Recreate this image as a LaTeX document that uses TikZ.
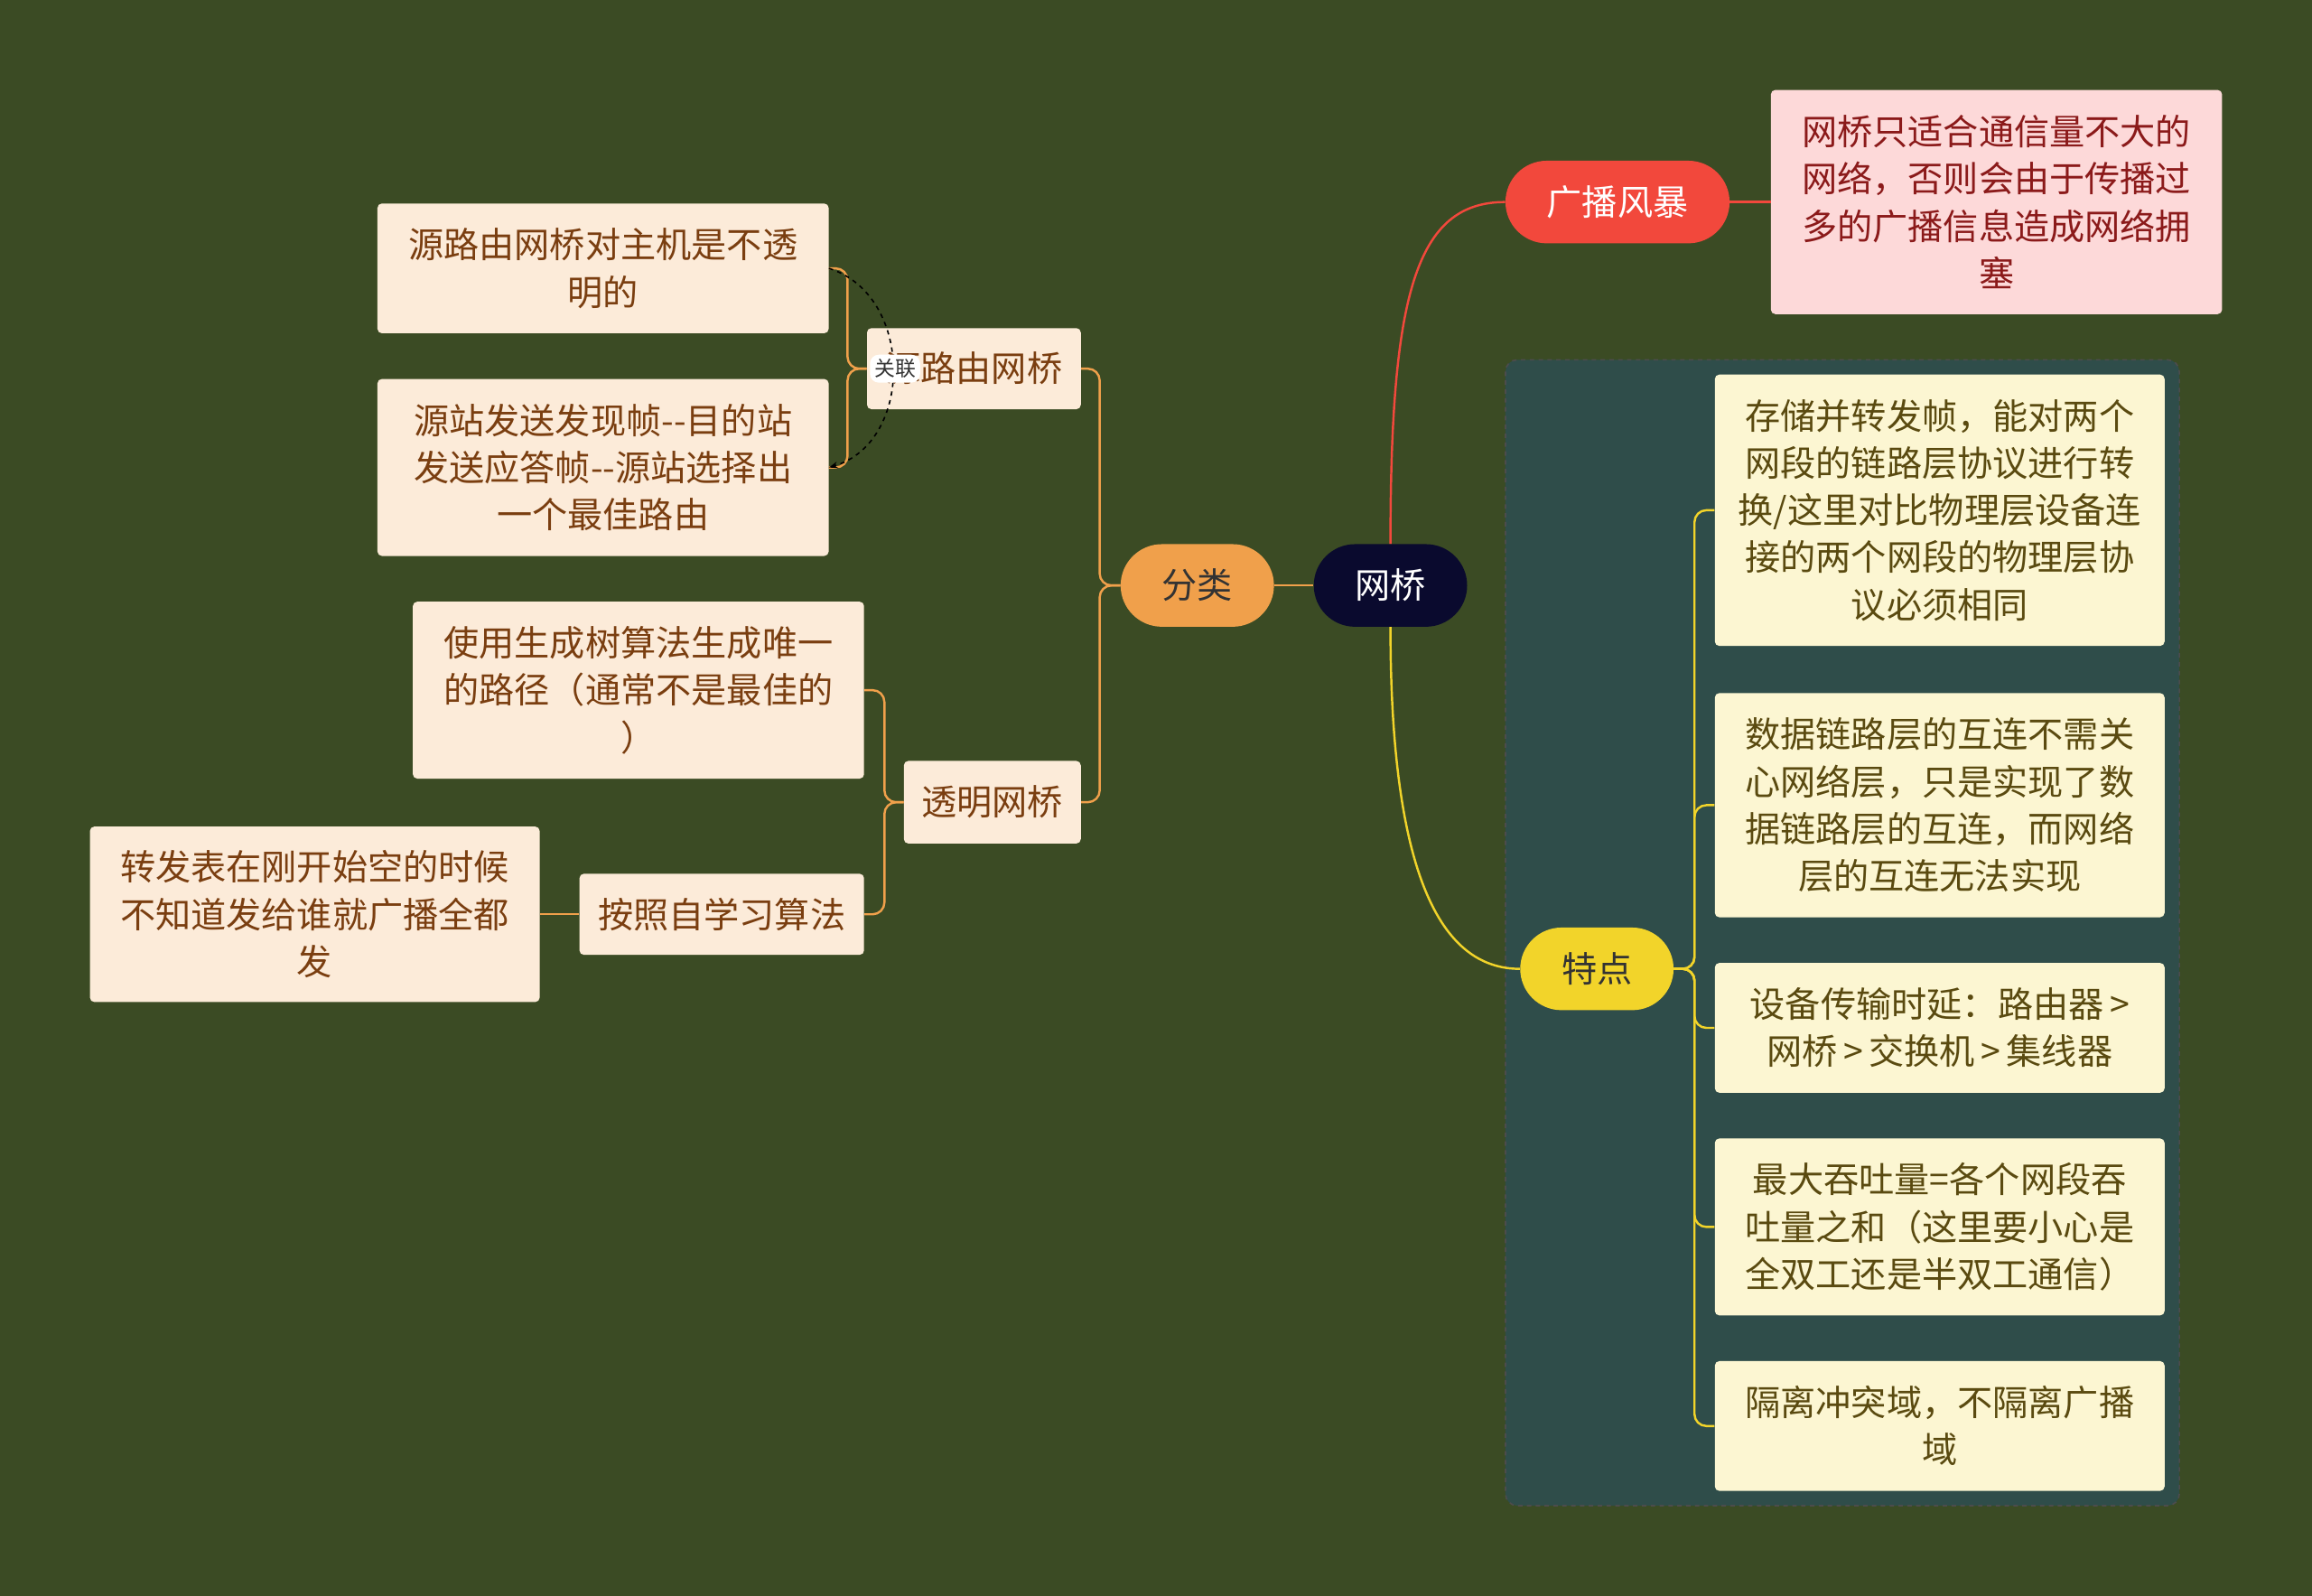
\documentclass[tikz,border=0pt]{standalone}
\usepackage{fontspec}
\setmainfont{Noto Sans CJK SC}
\usetikzlibrary{arrows.meta}
\definecolor{bg}{HTML}{3B4B24}
\definecolor{peach}{HTML}{FCEBD9}
\definecolor{brownt}{HTML}{7A3E10}
\definecolor{oline}{HTML}{F0A04B}
\definecolor{redp}{HTML}{F2483C}
\definecolor{pinkb}{HTML}{FDD9D9}
\definecolor{redt}{HTML}{8B1A1A}
\definecolor{yel}{HTML}{F2D42A}
\definecolor{yelb}{HTML}{FCF6D2}
\definecolor{yelt}{HTML}{5A4A10}
\definecolor{grp}{HTML}{2F4D4A}
\definecolor{navy}{HTML}{0A0A2E}
\begin{document}
\begin{tikzpicture}[x=1pt,y=-1pt,
  txt/.style={font=\fontsize{24}{32}\selectfont,align=center},
  pill/.style={txt,rounded corners=28pt,minimum height=56pt,inner sep=0pt},
  obox/.style={txt,draw=none,fill=peach,text=brownt,rounded corners=3pt,inner sep=0pt},
  ybox/.style={txt,fill=yelb,text=yelt,rounded corners=3pt,inner sep=0pt},
  oln/.style={draw=oline,line width=1.5pt,rounded corners=8pt},
  yln/.style={draw=yel,line width=1.5pt,rounded corners=8pt}]
\fill[bg] (0,0) rectangle (1568,1082);
\useasboundingbox (0,0) rectangle (1568,1082);
% group
\draw[fill=grp,draw=black!70,dashed,line width=1pt,rounded corners=8pt] (1021,244) rectangle (1478,1021);
% central
\node[pill,fill=navy,text=white,minimum width=104pt] (root) at (943,397) {网桥};
\node[pill,fill=oline,text=black!80,minimum width=104pt] (fl) at (812,397) {分类};
\node[pill,fill=redp,text=white,minimum width=152pt] (gb) at (1097,137) {广播风暴};
\node[pill,fill=yel,text=black!80,minimum width=104pt] (td) at (1083,657) {特点};
% left boxes
\node[obox,minimum width=145pt,minimum height=55pt] (ly) at (660.5,250) {源路由网桥};
\node[obox,minimum width=120pt,minimum height=56pt] (tm) at (673,544) {透明网桥};
\node[obox,minimum width=306pt,minimum height=88pt] (l1) at (409,182) {源路由网桥对主机是不透\\明的};
\node[obox,minimum width=306pt,minimum height=120pt] (l2) at (409,317) {源站发送发现帧{-}{-}目的站\\发送应答帧{-}{-}源站选择出\\一个最佳路由};
\node[obox,minimum width=306pt,minimum height=120pt] (t1) at (433,468) {使用生成树算法生成唯一\\的路径（通常不是最佳的\\）};
\node[obox,minimum width=193pt,minimum height=55pt] (t2) at (489.5,620) {按照自学习算法};
\node[obox,minimum width=305pt,minimum height=119pt] (t3) at (213.5,620) {转发表在刚开始空的时候\\不知道发给谁就广播全都\\发};
% red
\node[txt,fill=pinkb,text=redt,rounded corners=3pt,minimum width=306pt,minimum height=152pt,inner sep=0pt] (rb) at (1354,137) {网桥只适合通信量不大的\\网络，否则会由于传播过\\多的广播信息造成网络拥\\塞};
% yellow boxes
\node[ybox,minimum width=305pt,minimum height=184pt] (y1) at (1315.5,346) {存储并转发帧，能对两个\\网段的链路层协议进行转\\换/这里对比物理层设备连\\接的两个网段的物理层协\\议必须相同};
\node[ybox,minimum width=305pt,minimum height=152pt] (y2) at (1315.5,546) {数据链路层的互连不需关\\心网络层，只是实现了数\\据链路层的互连，而网络\\层的互连无法实现};
\node[ybox,minimum width=305pt,minimum height=88pt] (y3) at (1315.5,697) {设备传输时延：路由器\,>\\网桥\,>\,交换机\,>\,集线器};
\node[ybox,minimum width=305pt,minimum height=120pt] (y4) at (1315.5,832) {最大吞吐量=各个网段吞\\吐量之和（这里要小心是\\全双工还是半双工通信）};
\node[ybox,minimum width=305pt,minimum height=88pt] (y5) at (1315.5,967) {隔离冲突域，不隔离广播\\域};
% connectors
\draw[oline,line width=1.5pt] (root.west) -- (fl.east);
\draw[redp,line width=1.5pt] (root.north) .. controls (943,200) and (960,137) .. (gb.west);
\draw[redp,line width=1.5pt] (gb.east) -- (rb.west);
\draw[yel,line width=1.5pt] (root.south) .. controls (943,600) and (980,657) .. (td.west);
\foreach \b in {y1,y2,y3,y4,y5}
  \draw[yln] (td.east) -- ++(14,0) |- (\b.west);
\draw[oln] (fl.west) -- ++(-14,0) |- (ly.east);
\draw[oln] (fl.west) -- ++(-14,0) |- (tm.east);
\draw[oln] (ly.west) -- ++(-13,0) |- (l1.east);
\draw[oln] (ly.west) -- ++(-13,0) |- (l2.east);
\draw[oln] (tm.west) -- ++(-13,0) |- (t1.east);
\draw[oln] (tm.west) -- ++(-13,0) |- (t2.east);
\draw[oln] (t2.west) -- (t3.east);
% association
\draw[black,dashed,line width=1pt,-{Stealth[length=6pt]}] (l1.east) .. controls (620,200) and (620,300) .. (l2.east);
\node[fill=white,rounded corners=6pt,font=\fontsize{14}{16}\selectfont,text=black!80,inner sep=3pt] (gl) at (607,250) {关联};
\end{tikzpicture}
\end{document}
